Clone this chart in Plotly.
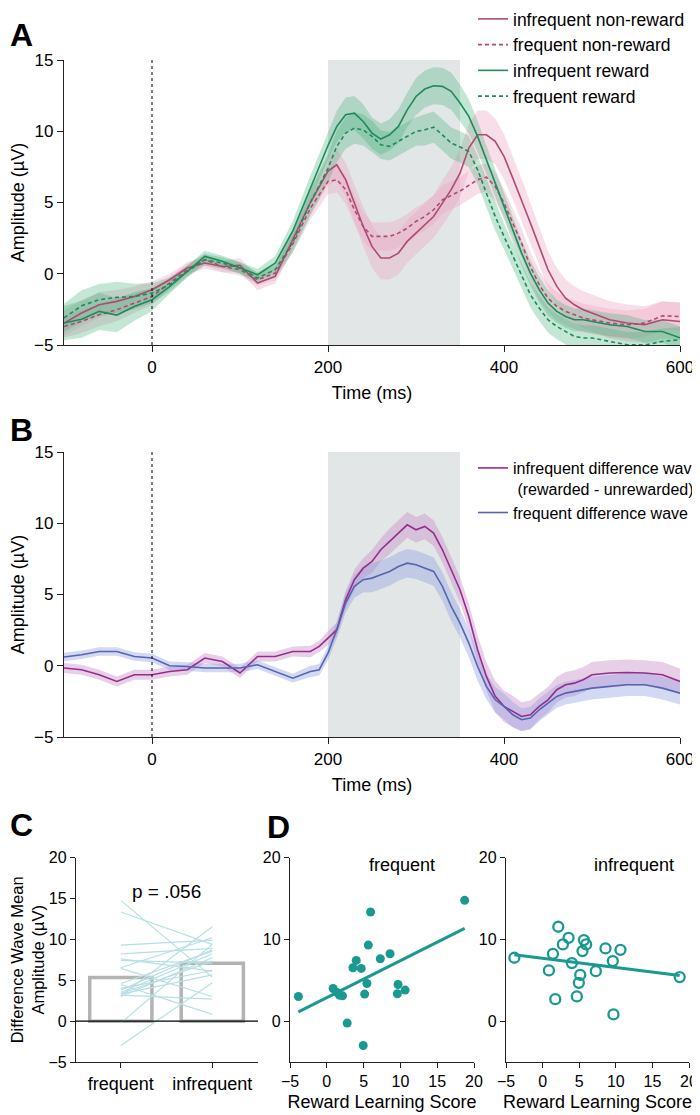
import numpy as np
import plotly.graph_objects as go

# ---------------- Panel A data ----------------
time_a = [-100, -80, -60, -40, -20, 0, 20, 40, 60, 80, 100, 120, 140, 160, 180,
          200, 210, 220, 230, 240, 250, 260, 270, 280, 290, 300, 310, 320, 330, 340,
          350, 360, 370, 380, 390, 400, 410, 420, 430, 440, 450, 460, 470, 480, 490, 500,
          520, 540, 560, 580, 600]

infreq_nonreward = [-3.46, -2.76, -2.18, -1.94, -1.6, -1.12, -0.42, 0.4, 0.75, 0.51, 0.6, -0.65, -0.19, 2.4, 5.0,
                    7.2, 7.65, 6.6, 4.96, 3.32, 1.92, 1.1, 1.1, 1.45, 2.27, 2.85, 3.44, 4.02, 4.96, 5.9,
                    7.06, 8.82, 9.75, 9.75, 9.29, 8.23, 6.71, 5.19, 3.56, 1.92, 0.28, -0.89, -1.71, -2.18, -2.53, -2.76,
                    -3.23, -3.46, -3.58, -3.23, -3.35]
freq_nonreward = [-3.7, -3.35, -2.88, -2.53, -2.06, -1.6, -0.65, 0.28, 0.98, 0.51, 0.28, -0.42, 0.05, 2.1, 4.6,
                  6.48, 6.6, 5.9, 4.49, 3.32, 2.62, 2.62, 2.62, 2.85, 3.2, 3.67, 4.02, 4.49, 5.19, 5.5,
                  5.8, 6.2, 6.6, 6.78, 6.13, 4.96, 3.56, 2.15, 0.51, -0.77, -1.71, -2.29, -2.64, -2.88, -3.11, -3.23,
                  -3.46, -3.58, -3.46, -2.95, -3.0]
infreq_reward = [-3.46, -3.2, -2.64, -2.9, -2.3, -1.82, -0.9, 0.16, 1.22, 0.87, 0.4, -0.07, 0.75, 3.0, 6.0,
                 9.0, 10.34, 11.16, 11.27, 10.69, 9.87, 9.45, 9.75, 10.34, 11.5, 12.44, 12.96, 13.19, 13.15, 12.8,
                 11.98, 11.04, 9.64, 8.0, 6.36, 4.73, 3.09, 1.45, 0.05, -1.12, -2.06, -2.64, -3.0, -3.23, -3.23, -3.35,
                 -3.58, -3.7, -4.05, -4.05, -4.5]
freq_reward = [-3.1, -2.25, -1.82, -1.66, -1.6, -1.36, -0.77, 0.16, 0.98, 0.75, 0.4, -0.3, 0.28, 2.2, 5.0,
               7.4, 8.94, 9.87, 10.22, 10.1, 9.64, 9.05, 8.94, 9.29, 9.64, 9.99, 10.1, 10.29, 9.75, 9.17,
               8.9, 8.58, 7.3, 5.66, 4.02, 2.62, 1.22, -0.19, -1.47, -2.41, -3.23, -3.7, -4.05, -4.4, -4.51, -4.51,
               -4.75, -4.98, -5.0, -4.75, -4.63]

sem_infreq_nonreward = [0.9, 0.9, 0.9, 0.8, 0.7, 0.6, 0.4, 0.4, 0.4, 0.4, 0.5, 0.5, 0.5, 0.7, 0.9,
                        1.0, 1.1, 1.2, 1.3, 1.4, 1.5, 1.5, 1.5, 1.5, 1.5, 1.5, 1.5, 1.5, 1.6, 1.6,
                        1.7, 1.7, 1.7, 1.7, 1.6, 1.6, 1.5, 1.5, 1.4, 1.3, 1.3, 1.3, 1.3, 1.3, 1.3, 1.3,
                        1.3, 1.3, 1.3, 1.3, 1.3]
sem_freq_nonreward = [0.8, 0.8, 0.8, 0.8, 0.7, 0.6, 0.4, 0.4, 0.4, 0.4, 0.4, 0.4, 0.5, 0.6, 0.8,
                      0.9, 0.9, 1.0, 1.0, 1.0, 1.0, 1.0, 1.0, 1.0, 1.0, 1.0, 1.0, 1.0, 1.0, 1.0,
                      1.0, 1.0, 1.0, 1.0, 1.0, 1.0, 1.0, 1.0, 1.0, 1.0, 1.0, 1.0, 1.0, 1.0, 1.0, 1.0,
                      1.0, 1.0, 1.0, 1.0, 1.0]
sem_infreq_reward = [1.2, 1.3, 1.3, 1.2, 1.0, 0.8, 0.5, 0.4, 0.4, 0.4, 0.4, 0.4, 0.5, 0.7, 0.9,
                     1.0, 1.1, 1.2, 1.2, 1.2, 1.1, 1.1, 1.1, 1.2, 1.2, 1.3, 1.3, 1.3, 1.3, 1.3,
                     1.3, 1.2, 1.1, 1.0, 1.0, 0.9, 0.9, 0.9, 0.9, 0.9, 0.9, 0.8, 0.8, 0.8, 0.8, 0.8,
                     0.8, 0.8, 0.8, 0.8, 0.8]
sem_freq_reward = [1.0, 1.1, 1.1, 1.1, 0.9, 0.7, 0.5, 0.4, 0.4, 0.4, 0.4, 0.4, 0.5, 0.7, 0.9,
                   1.0, 1.1, 1.1, 1.1, 1.1, 1.1, 1.0, 1.0, 1.0, 1.0, 1.0, 1.1, 1.1, 1.1, 1.1,
                   1.1, 1.1, 1.0, 1.0, 1.0, 0.9, 0.9, 0.9, 0.9, 0.9, 0.9, 0.9, 0.9, 0.9, 0.9, 0.9,
                   0.9, 0.9, 0.9, 0.9, 0.9]

# ---------------- Panel B data ----------------
time_b = [-100, -80, -60, -40, -20, 0, 20, 40, 60, 80, 100, 120, 140, 160,
          180, 190, 200, 210, 220, 230, 240, 250, 260, 270, 280, 290, 300, 310, 320, 330, 340,
          350, 360, 370, 380, 390, 400, 410, 420, 430, 440, 450, 460, 470, 480, 490, 500,
          520, 540, 560, 580, 600]
infreq_diff = [-0.16, -0.28, -0.63, -1.1, -0.63, -0.63, -0.4, -0.28, 0.54, 0.3, -0.51, 0.65, 0.65, 1.0,
               1.0, 1.36, 1.94, 2.53, 4.63, 6.04, 6.85, 7.32, 8.14, 8.73, 9.31, 9.89, 9.54, 9.78, 9.31, 8.14, 6.74,
               5.33, 3.46, 1.12, -0.75, -2.15, -2.85, -3.2, -3.56, -3.44, -2.85, -2.39, -1.68, -1.33, -1.22, -0.98, -0.63,
               -0.51, -0.47, -0.51, -0.63, -1.1]
freq_diff = [0.61, 0.77, 1.0, 1.0, 0.65, 0.54, 0.0, -0.05, -0.16, -0.16, -0.16, 0.07, -0.4, -0.87,
             -0.4, -0.28, 0.89, 2.53, 4.4, 5.57, 6.04, 6.15, 6.39, 6.62, 6.97, 7.2, 7.09, 6.85, 6.62, 5.57, 4.16,
             2.99, 1.59, -0.05, -1.45, -2.39, -2.85, -3.44, -3.79, -3.67, -3.09, -2.62, -2.15, -1.92, -1.8, -1.68, -1.57,
             -1.45, -1.33, -1.33, -1.57, -1.92]
sem_infreq_diff = [0.35, 0.35, 0.35, 0.35, 0.35, 0.35, 0.35, 0.35, 0.35, 0.35, 0.35, 0.35, 0.35, 0.35,
                   0.4, 0.4, 0.5, 0.5, 0.6, 0.7, 0.7, 0.8, 0.8, 0.9, 0.9, 0.9, 0.9, 0.9, 0.9, 0.9, 0.9,
                   0.9, 0.9, 1.0, 1.0, 1.1, 1.1, 1.1, 1.0, 1.0, 0.9, 0.9, 0.9, 0.9, 0.9, 0.9, 0.9,
                   0.9, 0.9, 0.9, 0.9, 0.9]
sem_freq_diff = [0.3, 0.3, 0.3, 0.3, 0.3, 0.3, 0.3, 0.3, 0.3, 0.3, 0.3, 0.3, 0.3, 0.3,
                 0.4, 0.4, 0.5, 0.6, 0.7, 0.8, 0.9, 1.0, 1.0, 1.0, 1.0, 1.0, 1.0, 1.0, 1.0, 1.0, 1.0,
                 1.0, 1.0, 1.0, 0.9, 0.9, 0.9, 0.9, 0.8, 0.8, 0.8, 0.8, 0.8, 0.8, 0.8, 0.8, 0.8,
                 0.8, 0.8, 0.8, 0.8, 0.8]

# ---------------- Panels C / D data (per participant) ----------------
reward_learning_score = [-3.86, 0.86, 1.41, 1.73, 2.14, 2.77, 3.55, 4.0, 4.68, 4.95,
                         5.14, 5.45, 5.64, 5.95, 7.27, 8.59, 9.59, 9.68, 10.64, 18.73]
frequent_amp = [3.02, 4.0, 3.5, 3.18, 3.1, -0.24, 6.53, 7.43, 6.45, -2.98,
                3.31, 4.61, 9.31, 13.35, 7.63, 8.24, 3.35, 4.49, 3.80, 14.78]
infrequent_amp = [7.76, 6.20, 8.24, 2.69, 11.55, 9.39, 10.2, 7.10, 3.02, 4.69,
                  5.67, 8.57, 9.92, 9.39, 6.12, 8.90, 7.35, 0.82, 8.73, 5.39]
conditions = ["frequent", "infrequent"]

# ---------------- styling ----------------
FONT = "Liberation Sans, Arial, Helvetica, sans-serif"
PINK = "#b04a72"
PINK_BAND = "rgba(236,168,194,0.38)"
GREEN = "#1d8b5b"
GREEN_BAND = "rgba(70,178,125,0.32)"
PURPLE = "#982c8c"
PURPLE_BAND = "rgba(200,140,200,0.42)"
BLUE = "#5565b0"
BLUE_BAND = "rgba(145,158,225,0.40)"
TEAL = "#1a9991"
LIGHT_TEAL = "#b6e0e3"
GREY_BAR = "#b3b3b3"
AXIS = "#222222"

# page has an 8px body margin: the figure is laid out in page pixels minus 8
OFF = 8
W, H = 700 - OFF, 1115 - OFF

fig = go.Figure()


def add_band(t, m, s, color, xa, ya):
    m = np.asarray(m, float)
    s = np.asarray(s, float)
    fig.add_trace(go.Scatter(x=t, y=m + s, mode="lines", line=dict(width=0), hoverinfo="skip",
                             showlegend=False, xaxis=xa, yaxis=ya))
    fig.add_trace(go.Scatter(x=t, y=m - s, mode="lines", line=dict(width=0), fill="tonexty",
                             fillcolor=color, hoverinfo="skip", showlegend=False, xaxis=xa, yaxis=ya))


# Panel A bands
add_band(time_a, infreq_nonreward, sem_infreq_nonreward, PINK_BAND, "x", "y")
add_band(time_a, freq_nonreward, sem_freq_nonreward, PINK_BAND, "x", "y")
add_band(time_a, infreq_reward, sem_infreq_reward, GREEN_BAND, "x", "y")
add_band(time_a, freq_reward, sem_freq_reward, GREEN_BAND, "x", "y")

a_series = [
    ("infrequent non-reward", infreq_nonreward, PINK, "solid"),
    ("frequent non-reward", freq_nonreward, PINK, "4px,3px"),
    ("infrequent reward", infreq_reward, GREEN, "solid"),
    ("frequent reward", freq_reward, GREEN, "4px,3px"),
]
for name, vals, col, dash in a_series:
    fig.add_trace(go.Scatter(x=time_a, y=vals, mode="lines", name=name,
                             line=dict(color=col, width=1.6, dash=dash),
                             xaxis="x", yaxis="y", legend="legend"))

# Panel B
add_band(time_b, infreq_diff, sem_infreq_diff, PURPLE_BAND, "x2", "y2")
add_band(time_b, freq_diff, sem_freq_diff, BLUE_BAND, "x2", "y2")
fig.add_trace(go.Scatter(x=time_b, y=infreq_diff, mode="lines",
                         name="infrequent difference wave<br> (rewarded - unrewarded)",
                         line=dict(color=PURPLE, width=1.6), xaxis="x2", yaxis="y2", legend="legend2"))
fig.add_trace(go.Scatter(x=time_b, y=freq_diff, mode="lines", name="frequent difference wave",
                         line=dict(color=BLUE, width=1.6), xaxis="x2", yaxis="y2", legend="legend2"))

# Panel C: paired participant lines + open bars (means)
px_, py_ = [], []
for f, i in zip(frequent_amp, infrequent_amp):
    px_ += [0, 1, None]
    py_ += [f, i, None]
fig.add_trace(go.Scatter(x=px_, y=py_, mode="lines", line=dict(color=LIGHT_TEAL, width=1.2),
                         showlegend=False, xaxis="x3", yaxis="y3"))
means = [float(np.mean(frequent_amp)), float(np.mean(infrequent_amp))]
fig.add_trace(go.Bar(x=[0, 1], y=means, width=0.68, marker=dict(color="rgba(0,0,0,0)",
                     line=dict(color=GREY_BAR, width=3.5)), showlegend=False, xaxis="x3", yaxis="y3"))

# Panel D: scatter + regression
for vals, xa, ya, symbol in [(frequent_amp, "x4", "y4", "circle"), (infrequent_amp, "x5", "y5", "circle-open")]:
    xs = np.asarray(reward_learning_score)
    ys = np.asarray(vals)
    slope, icpt = np.polyfit(xs, ys, 1)
    xl = np.array([xs.min(), xs.max()])
    fig.add_trace(go.Scatter(x=xl, y=slope * xl + icpt, mode="lines", line=dict(color=TEAL, width=3),
                             showlegend=False, xaxis=xa, yaxis=ya))
    if symbol == "circle":
        mk = dict(color=TEAL, size=9, symbol="circle")
    else:
        mk = dict(color=TEAL, size=10, symbol="circle-open", line=dict(width=2.3, color=TEAL))
    fig.add_trace(go.Scatter(x=xs, y=ys, mode="markers", marker=mk, showlegend=False, xaxis=xa, yaxis=ya))


def dx(a, b):
    return [(a - OFF) / W, (b - OFF) / W]


def dy(top, bottom):
    return [1 - (bottom - OFF) / H, 1 - (top - OFF) / H]


def axstyle(size=17, **kw):
    base = dict(showline=True, linecolor=AXIS, linewidth=1.3, ticks="outside", ticklen=6,
                tickcolor=AXIS, tickwidth=1.3, showgrid=False, zeroline=False,
                tickfont=dict(size=size, color="black", family=FONT), automargin=False)
    base.update(kw)
    return base


title_font = dict(size=18, color="black", family=FONT)

fig.update_layout(
    width=W, height=H, margin=dict(l=0, r=0, t=0, b=0, autoexpand=False),
    plot_bgcolor="white", paper_bgcolor="white", font=dict(family=FONT, color="black"),
    barmode="overlay",
    xaxis=axstyle(domain=dx(64, 680), range=[-100, 600], tickvals=[0, 200, 400, 600], anchor="y",
                  title=dict(text="Time (ms)", font=title_font, standoff=10)),
    yaxis=axstyle(domain=dy(60, 345), range=[-5, 15], tickvals=[-5, 0, 5, 10, 15], anchor="x",
                  title=dict(text="Amplitude (µV)", font=title_font, standoff=6)),
    xaxis2=axstyle(domain=dx(64, 680), range=[-100, 600], tickvals=[0, 200, 400, 600], anchor="y2",
                   title=dict(text="Time (ms)", font=title_font, standoff=10)),
    yaxis2=axstyle(domain=dy(452, 737), range=[-5, 15], tickvals=[-5, 0, 5, 10, 15], anchor="x2",
                   title=dict(text="Amplitude (µV)", font=title_font, standoff=6)),
    xaxis3=axstyle(size=18, domain=dx(76, 258), range=[-0.49, 1.5], tickvals=[0, 1], ticktext=conditions,
                   anchor="y3", ticklen=5),
    yaxis3=axstyle(size=16, domain=dy(857.7, 1062), range=[-5, 20], tickvals=[-5, 0, 5, 10, 15, 20], anchor="x3",
                   ticklen=5,
                   title=dict(text="Difference Wave Mean<br>Amplitude (µV)",
                              font=dict(size=16.5, color="black", family=FONT), standoff=0)),
    xaxis4=axstyle(size=16, domain=dx(290, 474), range=[-5, 20], tickvals=[-5, 0, 5, 10, 15, 20], anchor="y4",
                   ticklen=5, title=dict(text="Reward Learning Score", font=title_font, standoff=6)),
    yaxis4=axstyle(size=16, domain=dy(857.7, 1062), range=[-5, 20], tickvals=[0, 10, 20], anchor="x4", ticklen=5),
    xaxis5=axstyle(size=16, domain=dx(506, 689), range=[-5, 20], tickvals=[-5, 0, 5, 10, 15, 20], anchor="y5",
                   ticklen=5, title=dict(text="Reward Learning Score", font=title_font, standoff=6)),
    yaxis5=axstyle(size=16, domain=dy(857.7, 1062), range=[-5, 20], tickvals=[0, 10, 20], anchor="x5", ticklen=5),
    legend=dict(x=(473 - OFF) / W, y=1 + 7.0 / H, xanchor="left", yanchor="top", bgcolor="rgba(0,0,0,0)",
                font=dict(size=17.5, family=FONT, color="black"), itemwidth=30, tracegroupgap=0,
                traceorder="normal"),
    legend2=dict(x=(473 - OFF) / W, y=1 - (451 - OFF) / H, xanchor="left", yanchor="top",
                 bgcolor="rgba(0,0,0,0)", font=dict(size=16, family=FONT, color="black"),
                 itemwidth=30, valign="top", traceorder="normal"),
    showlegend=True,
)

# shaded analysis window and stimulus onset line (panels A & B)
for xa, ya in [("x", "y"), ("x2", "y2")]:
    fig.add_shape(type="rect", xref=xa, yref=ya, x0=200, x1=350, y0=-5, y1=15,
                  fillcolor="#e2e6e6", line=dict(width=0), layer="below")
    fig.add_shape(type="line", xref=xa, yref=ya, x0=0, x1=0, y0=-5, y1=15,
                  line=dict(color="black", width=1, dash="dot"), layer="above")

# black zero line of panel C drawn above the open bars
fig.add_shape(type="line", xref="x3 domain", yref="y3", x0=0, x1=1, y0=0, y1=0,
              line=dict(color="black", width=1.3), layer="above")

# Panel letters (page coords; kept inside the figure's left edge)
for letter, x, y in [("A", 8, 35), ("B", 8, 430), ("C", 8, 825), ("D", 265, 827)]:
    fig.add_annotation(text="<b>%s</b>" % letter, xref="paper", yref="paper",
                       x=(x - OFF) / W, y=1 - (y - OFF) / H,
                       xanchor="left", yanchor="middle", showarrow=False,
                       font=dict(size=32, family=FONT, color="black"))

fig.add_annotation(text="p = .056", xref="x3", yref="y3", x=0.5, y=15.9, showarrow=False,
                   font=dict(size=19, family=FONT, color="black"))
fig.add_annotation(text="frequent", xref="x4", yref="y4", x=10.2, y=19.1, showarrow=False,
                   font=dict(size=18, family=FONT, color="black"))
fig.add_annotation(text="infrequent", xref="x5", yref="y5", x=12.5, y=19.1, showarrow=False,
                   font=dict(size=18, family=FONT, color="black"))

fig.write_html("out.html")
